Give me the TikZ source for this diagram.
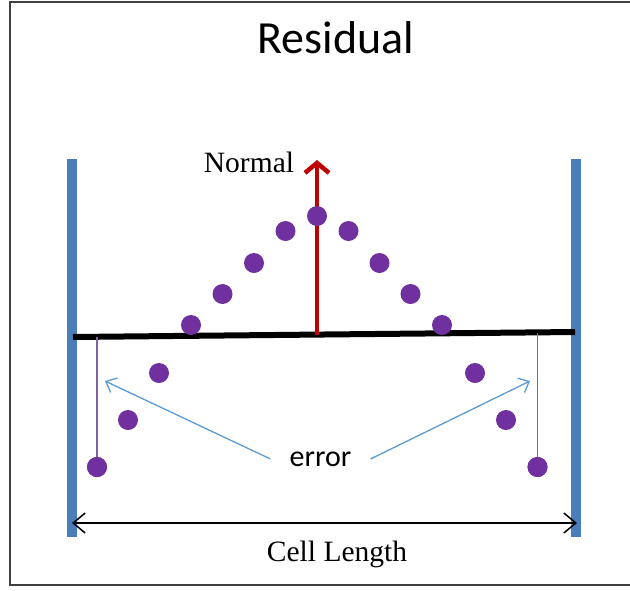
\documentclass[tikz,border=0pt]{standalone}
\usepackage{fontspec}
\setmainfont{Liberation Serif}
\newfontfamily\calib{Carlito}
\usetikzlibrary{arrows.meta}
\definecolor{dotpurple}{HTML}{7030A0}
\definecolor{linepurple}{HTML}{8064A2}
\definecolor{barblue}{HTML}{4A7EBB}
\definecolor{errblue}{HTML}{5B9BD5}
\definecolor{normred}{HTML}{C00000}
\definecolor{frame}{HTML}{404040}
\tikzset{
  dot/.style={circle, fill=dotpurple, minimum size=20pt, inner sep=0pt},
  wall/.style={barblue, line width=10pt},
  errarrow/.style={errblue, line width=1.3pt, -{Straight Barb[length=9pt,width=16pt]}},
  droplink/.style={linepurple, line width=1.4pt},
  serif/.style={font=\fontsize{29.5}{32}\selectfont},
}
\begin{document}
\begin{tikzpicture}[x=1pt,y=-1pt]
\useasboundingbox (0,0) rectangle (630,590);
\begin{scope}
\clip (0,0) rectangle (630,590);
\draw[frame, line width=1.6pt] (10,2) rectangle (640,585);
\end{scope}
% title
\node[font=\calib\fontsize{46}{50}\selectfont, anchor=base] (title) at (336,53) {Residual};
% walls
\coordinate (lwt) at (72,159); \coordinate (lwb) at (72,537);
\coordinate (rwt) at (576,159); \coordinate (rwb) at (576,537);
\draw[wall] (lwt) -- (lwb);
\draw[wall] (rwt) -- (rwb);
% fitted line
\coordinate (fl) at (73,337); \coordinate (fr) at (575,332);
\draw[black, line width=6pt] (fl) -- (fr);
% normal
\coordinate (nbase) at (317,334.5); \coordinate (ntip) at (317,160);
\draw[normred, line width=4.5pt, -{Straight Barb[length=10pt,width=24pt]}] (nbase) -- (ntip);
\node[serif, anchor=base] (normal) at (249,172) {Normal};
% dots
\node[dot] (d0) at (317,216) {};
\node[dot] (l1) at (285.5,231) {};
\node[dot] (l2) at (254,263) {};
\node[dot] (l3) at (222.5,294) {};
\node[dot] (l4) at (191,325) {};
\node[dot] (r1) at (348.5,231) {};
\node[dot] (r2) at (379.5,263) {};
\node[dot] (r3) at (410.5,294) {};
\node[dot] (r4) at (442,325) {};
\node[dot] (l5) at (159,373) {};
\node[dot] (l6) at (128,420) {};
\node[dot] (l7) at (97,467) {};
\node[dot] (r5) at (475,373) {};
\node[dot] (r6) at (506,420) {};
\node[dot] (r7) at (537.5,467) {};
% drop links
\coordinate (lt) at (97,337); \coordinate (rt) at (537.5,333);
\draw[droplink] (lt) -- (l7.center);
\draw[droplink] (rt) -- (r7.center);
\node[dot] at (l7) {};
\node[dot] at (r7) {};
% error
\node[font=\calib\fontsize{30}{34}\selectfont, inner xsep=19pt, inner ysep=0pt] (err) at (320.5,459) {error};
\coordinate (ltip) at (105,381); \coordinate (rtip) at (530,381);
\draw[errarrow] (err.west) -- (ltip);
\draw[errarrow] (err.east) -- (rtip);
% cell length
\coordinate (cl) at (72,523); \coordinate (cr) at (577,523);
\draw[black, line width=1.5pt, {Straight Barb[length=12pt,width=20pt]}-{Straight Barb[length=12pt,width=20pt]}] (cl) -- (cr);
\node[serif, anchor=base] (cell) at (337,561) {Cell Length};
\end{tikzpicture}
\end{document}
